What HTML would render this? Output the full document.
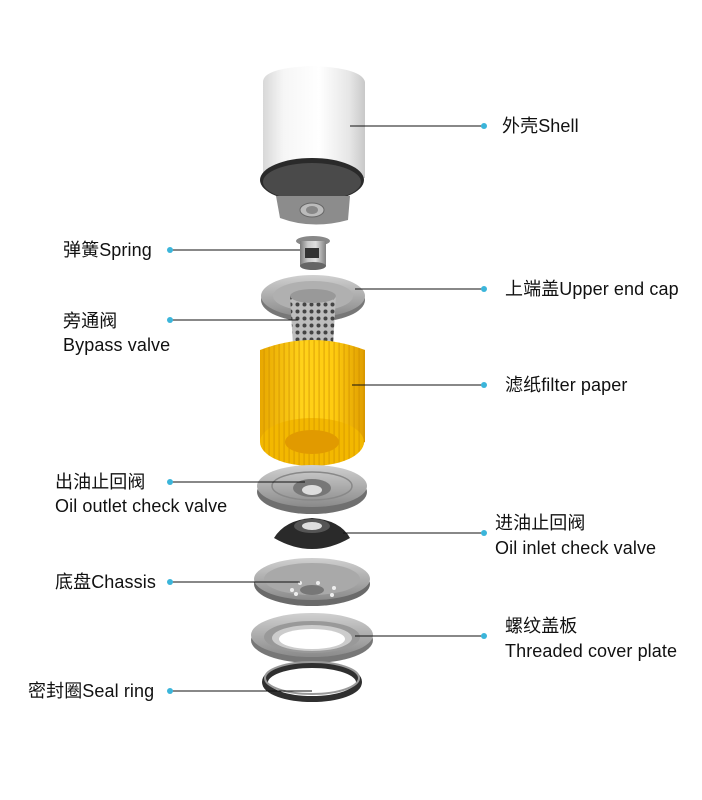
<!DOCTYPE html>
<html><head><meta charset="utf-8"><style>
html,body{margin:0;padding:0;background:#fff}
svg{display:block}
text{font-family:"Liberation Sans","Noto Sans CJK SC",sans-serif;font-size:18px;fill:#111;letter-spacing:0.1px}
</style></head><body>
<svg width="702" height="800" viewBox="0 0 702 800" xmlns="http://www.w3.org/2000/svg">
<defs>
<linearGradient id="white" x1="0" x2="1"><stop offset="0" stop-color="#d8d8d8"/><stop offset=".2" stop-color="#f6f6f6"/><stop offset=".55" stop-color="#fff"/><stop offset=".85" stop-color="#e6e6e6"/><stop offset="1" stop-color="#c8c8c8"/></linearGradient>
<linearGradient id="metal" x1="0" x2="1"><stop offset="0" stop-color="#7a7a7a"/><stop offset=".3" stop-color="#c8c8c8"/><stop offset=".6" stop-color="#e0e0e0"/><stop offset="1" stop-color="#808080"/></linearGradient>
<linearGradient id="metalv" x1="0" y1="0" x2="0" y2="1"><stop offset="0" stop-color="#d0d0d0"/><stop offset="1" stop-color="#8a8a8a"/></linearGradient>
<linearGradient id="yellow" x1="0" x2="1"><stop offset="0" stop-color="#e8a800"/><stop offset=".4" stop-color="#ffd21a"/><stop offset=".7" stop-color="#ffcc10"/><stop offset="1" stop-color="#e09e00"/></linearGradient>
<pattern id="pleat" width="5" height="10" patternUnits="userSpaceOnUse"><rect width="5" height="10" fill="none"/><rect x="3.5" width="1.2" height="10" fill="#c98a00" opacity=".55"/></pattern>
<pattern id="holes" width="7" height="7" patternUnits="userSpaceOnUse"><rect width="7" height="7" fill="#bdbdbd"/><circle cx="3.5" cy="3.5" r="2" fill="#444"/></pattern>
</defs>

<!-- Shell -->
<path d="M263 82 Q263 68 312 66 Q362 68 365 82 L365 178 L263 178 Z" fill="url(#white)"/>
<ellipse cx="312" cy="180" rx="52" ry="22" fill="#2a2a2a"/>
<ellipse cx="312" cy="182" rx="49" ry="19" fill="#4a4a4a"/>
<path d="M276 196 L350 196 L348 220 Q312 230 280 218 Z" fill="#8c8c8c"/>
<ellipse cx="312" cy="210" rx="12" ry="7" fill="#bbb" stroke="#666"/>
<ellipse cx="312" cy="210" rx="6" ry="4" fill="#888"/>

<!-- Spring -->
<ellipse cx="313" cy="241" rx="17" ry="5" fill="#888"/>
<rect x="300" y="241" width="26" height="25" fill="url(#metal)"/>
<rect x="305" y="248" width="14" height="10" fill="#333"/>
<ellipse cx="313" cy="266" rx="13" ry="4" fill="#666"/>

<!-- Upper end cap -->
<ellipse cx="313" cy="300" rx="52" ry="22" fill="#777"/>
<ellipse cx="313" cy="296" rx="52" ry="21" fill="url(#metalv)"/>
<ellipse cx="313" cy="296" rx="40" ry="15" fill="#b0b0b0"/>
<path d="M290 296 L293 345 Q313 352 333 345 L336 296 Z" fill="url(#holes)"/>
<ellipse cx="313" cy="296" rx="23" ry="7" fill="#999"/>

<!-- Filter paper -->
<path d="M260 350 Q312 330 365 350 L365 442 Q312 470 260 442 Z" fill="url(#yellow)"/>
<path d="M260 350 Q312 330 365 350 L365 442 Q312 470 260 442 Z" fill="url(#pleat)"/>
<ellipse cx="312" cy="442" rx="52" ry="24" fill="#f3b800"/>
<ellipse cx="312" cy="442" rx="52" ry="24" fill="url(#pleat)"/>
<ellipse cx="312" cy="442" rx="27" ry="12" fill="#e19a00"/>

<!-- Oil outlet check valve -->
<ellipse cx="312" cy="492" rx="55" ry="22" fill="#6f6f6f"/>
<ellipse cx="312" cy="486" rx="55" ry="21" fill="url(#metalv)"/>
<ellipse cx="312" cy="486" rx="40" ry="14" fill="none" stroke="#888" stroke-width="1.5"/>
<ellipse cx="312" cy="488" rx="19" ry="9" fill="#777"/>
<ellipse cx="312" cy="490" rx="10" ry="5" fill="#ddd"/>

<!-- Oil inlet check valve -->
<path d="M274 538 Q285 520 312 518 Q340 520 350 538 Q312 560 274 538 Z" fill="#2a2a2a"/>
<ellipse cx="312" cy="526" rx="18" ry="7" fill="#555"/>
<ellipse cx="312" cy="526" rx="10" ry="4" fill="#ddd"/>

<!-- Chassis -->
<ellipse cx="312" cy="584" rx="58" ry="22" fill="#6a6a6a"/>
<ellipse cx="312" cy="579" rx="58" ry="21" fill="url(#metalv)"/>
<ellipse cx="312" cy="579" rx="48" ry="16" fill="#a9a9a9"/>
<ellipse cx="312" cy="590" rx="12" ry="5" fill="#777"/>
<g fill="#eee"><circle cx="300" cy="583" r="2"/><circle cx="318" cy="583" r="2"/><circle cx="292" cy="590" r="2"/><circle cx="334" cy="588" r="2"/><circle cx="296" cy="594" r="2"/><circle cx="332" cy="595" r="2"/></g>

<!-- Threaded cover plate -->
<ellipse cx="312" cy="640" rx="61" ry="23" fill="#777"/>
<ellipse cx="312" cy="635" rx="61" ry="22" fill="url(#metalv)"/>
<ellipse cx="312" cy="637" rx="48" ry="16" fill="#999"/>
<ellipse cx="312" cy="638" rx="40" ry="13" fill="#ccc"/>
<ellipse cx="312" cy="639" rx="33" ry="10" fill="#fff"/>

<!-- Seal ring -->
<ellipse cx="312" cy="682" rx="47" ry="17" fill="none" stroke="#2f2f2f" stroke-width="6"/>
<ellipse cx="312" cy="678" rx="47" ry="16" fill="none" stroke="#999" stroke-width="2"/>

<!-- leader lines -->
<g stroke="#111" stroke-width="1" fill="none">
<line x1="350" y1="126" x2="484" y2="126"/>
<line x1="355" y1="289" x2="484" y2="289"/>
<line x1="352" y1="385" x2="484" y2="385"/>
<line x1="343" y1="533" x2="484" y2="533"/>
<line x1="355" y1="636" x2="484" y2="636"/>
<line x1="170" y1="250" x2="300" y2="250"/>
<line x1="170" y1="320" x2="298" y2="320"/>
<line x1="170" y1="482" x2="305" y2="482"/>
<line x1="170" y1="582" x2="300" y2="582"/>
<line x1="170" y1="691" x2="312" y2="691"/>
</g>
<g fill="#3bb5da">
<circle cx="484" cy="126" r="3"/><circle cx="484" cy="289" r="3"/><circle cx="484" cy="385" r="3"/><circle cx="484" cy="533" r="3"/><circle cx="484" cy="636" r="3"/>
<circle cx="170" cy="250" r="3"/><circle cx="170" cy="320" r="3"/><circle cx="170" cy="482" r="3"/><circle cx="170" cy="582" r="3"/><circle cx="170" cy="691" r="3"/>
</g>

<!-- labels -->
<text x="502" y="132">外壳Shell</text>
<text x="505" y="295">上端盖Upper end cap</text>
<text x="505" y="391">滤纸filter paper</text>
<text x="495" y="529">进油止回阀</text>
<text x="495" y="554">Oil inlet check valve</text>
<text x="505" y="632">螺纹盖板</text>
<text x="505" y="657">Threaded cover plate</text>
<text x="63" y="256">弹簧Spring</text>
<text x="63" y="327">旁通阀</text>
<text x="63" y="351">Bypass valve</text>
<text x="55" y="488">出油止回阀</text>
<text x="55" y="512">Oil outlet check valve</text>
<text x="55" y="588">底盘Chassis</text>
<text x="28" y="697">密封圈Seal ring</text>
</svg>
</body></html>
